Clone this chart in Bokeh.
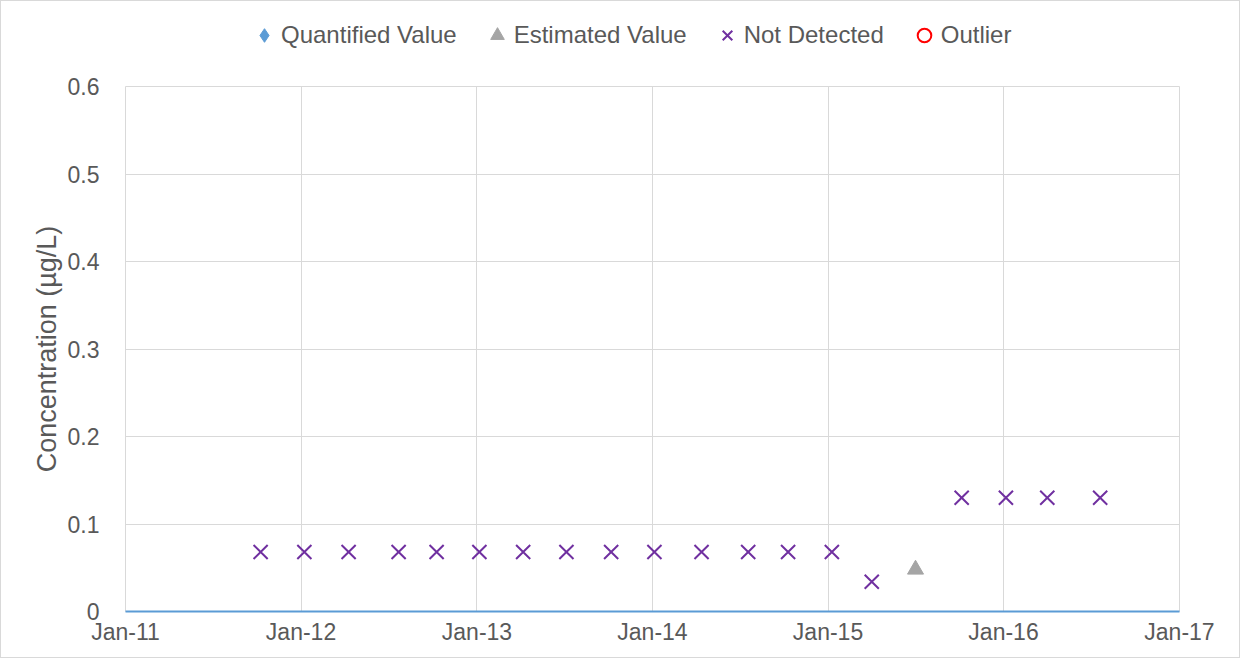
import datetime as dt
import math
from bokeh.plotting import figure
from bokeh.layouts import column
from bokeh.models import FixedTicker, DatetimeTickFormatter, Legend, LegendItem, Range1d
from bokeh.embed import file_html
from bokeh.resources import INLINE

# ---- data ----
nd_dates = ["2011-10-09", "2012-01-08", "2012-04-09", "2012-07-22", "2012-10-09",
            "2013-01-06", "2013-04-07", "2013-07-06", "2013-10-07", "2014-01-05",
            "2014-04-13", "2014-07-19", "2014-10-10", "2015-01-09", "2015-04-02",
            "2015-10-06", "2016-01-06", "2016-04-01", "2016-07-20"]
nd_values = [0.068, 0.068, 0.068, 0.068, 0.068, 0.068, 0.068, 0.068, 0.068, 0.068,
             0.068, 0.068, 0.068, 0.068, 0.034, 0.13, 0.13, 0.13, 0.13]
est_dates = ["2015-07-02"]
est_values = [0.048]
q_dates = []       # no quantified values in this record
q_values = []
out_dates = []     # no outliers in this record
out_values = []
tick_years = [2011, 2012, 2013, 2014, 2015, 2016, 2017]
y_ticks = [0, 0.1, 0.2, 0.3, 0.4, 0.5, 0.6]

series_names = ["Quantified Value", "Estimated Value", "Not Detected", "Outlier"]


def to_dt(lst):
    return [dt.datetime.strptime(s, "%Y-%m-%d") for s in lst]


FONT = "Liberation Sans"
TXT = "#595959"
GRID = "#D9D9D9"

STYLES = {
    "Quantified Value": dict(marker="diamond", size=16, fill_color="#5B9BD5", line_color="#5B9BD5"),
    "Estimated Value": dict(marker="triangle", size=16, fill_color="#A5A5A5", line_color="#A5A5A5"),
    "Not Detected": dict(marker="x", size=20, line_color="#7030A0", line_width=2),
    "Outlier": dict(marker="circle", size=12, fill_color=None, line_color="#FF0000", line_width=2),
}

# ---- main chart ----
p = figure(width=1238, height=596, x_axis_type="datetime", output_backend="svg",
           toolbar_location=None,
           x_range=Range1d(dt.datetime(2011, 1, 1), dt.datetime(2017, 1, 1)),
           y_range=Range1d(0, 0.6),
           min_border_left=124, min_border_right=60, min_border_top=25, min_border_bottom=46)

p.outline_line_color = GRID
p.xgrid.grid_line_color = GRID
p.ygrid.grid_line_color = GRID

tick_ms = [dt.datetime(y, 1, 1).timestamp() * 1000 for y in tick_years]
p.xaxis.ticker = FixedTicker(ticks=tick_ms)
fmt = "%b-%y"
p.xaxis.formatter = DatetimeTickFormatter(years=fmt, months=fmt, days=fmt, hours=fmt,
                                          minutes=fmt, seconds=fmt, milliseconds=fmt,
                                          minsec=fmt, hourmin=fmt, microseconds=fmt)
p.yaxis.ticker = FixedTicker(ticks=y_ticks)
p.yaxis.major_label_overrides = {0: "0"}

for ax in (p.xaxis[0], p.yaxis[0]):
    ax.major_tick_line_color = None
    ax.minor_tick_line_color = None
    ax.major_label_text_font = FONT
    ax.major_label_text_font_size = "23px"
    ax.major_label_text_color = TXT
p.yaxis.axis_line_color = None
p.xaxis.axis_line_color = "#5B9BD5"
p.xaxis.axis_line_width = 2
p.xaxis.major_label_standoff = 1
p.yaxis.major_label_standoff = 20

p.yaxis.axis_label = "Concentration (µg/L)"
p.yaxis.axis_label_text_font = FONT
p.yaxis.axis_label_text_font_size = "27px"
p.yaxis.axis_label_text_font_style = "normal"
p.yaxis.axis_label_text_color = TXT
p.yaxis.axis_label_standoff = 3

data = {
    "Quantified Value": (to_dt(q_dates), q_values),
    "Estimated Value": (to_dt(est_dates), est_values),
    "Not Detected": (to_dt(nd_dates), nd_values),
    "Outlier": (to_dt(out_dates), out_values),
}
for name in series_names:
    xs, ys = data[name]
    if ys:
        p.scatter(xs, ys, **STYLES[name])

# ---- legend strip above the chart (its frame is aligned with the chart's) ----
lg = figure(width=1238, height=60, output_backend="svg", toolbar_location=None,
            x_range=Range1d(0, 1), y_range=Range1d(0, 1),
            x_axis_location=None, y_axis_location=None, min_border=0)
lg.grid.visible = False
lg.outline_line_color = None
items = []
for name in series_names:
    # legend key only (NaN placeholder, nothing drawn in the strip)
    r = lg.scatter([math.nan], [math.nan], **STYLES[name])
    items.append(LegendItem(label=name, renderers=[r]))

legend = Legend(items=items, orientation="horizontal", location=(122, 4),
                label_text_font=FONT, label_text_font_size="24px", label_text_color=TXT,
                border_line_color=None, background_fill_alpha=0,
                glyph_width=34, glyph_height=44, label_standoff=0, spacing=23,
                padding=0, margin=0)
lg.add_layout(legend, "center")

layout = column(lg, p, spacing=0, styles={"border": "1px solid #D9D9D9"})

open("out.html", "w").write(file_html(layout, INLINE))
